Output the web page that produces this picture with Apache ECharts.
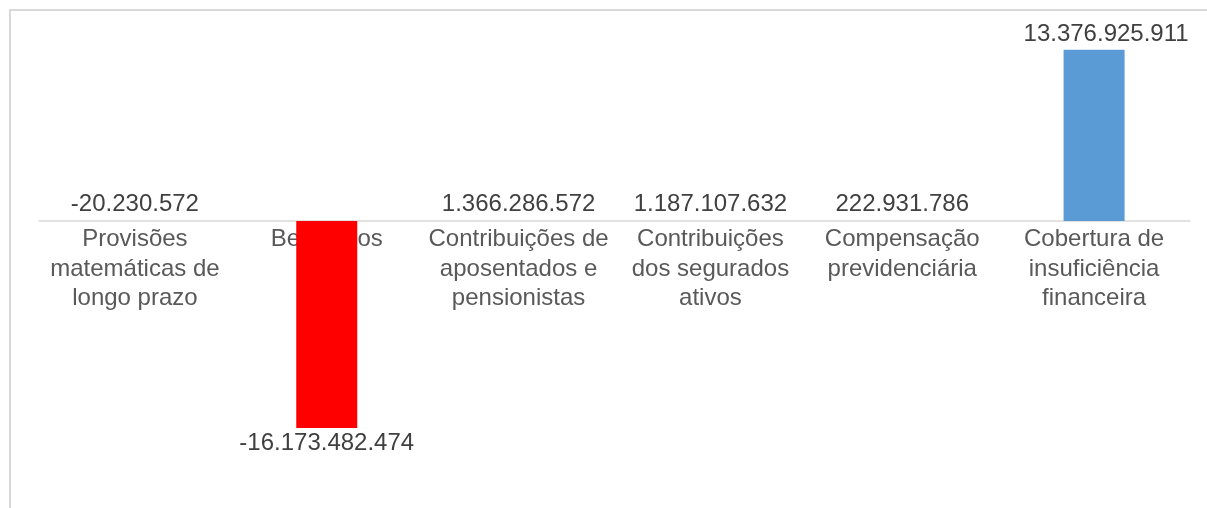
<!DOCTYPE html>
<html>
<head>
<meta charset="utf-8">
<script src="https://cdn.jsdelivr.net/npm/echarts@6/dist/echarts.min.js"></script>
<style>
  html, body { margin: 0; padding: 0; background: #fff; }
  #chart { width: 1207px; height: 508px; }
</style>
</head>
<body>
<div id="chart"></div>
<script>
const categories = [
    'Provisões\nmatemáticas de\nlongo prazo',
    'Benefícios',
    'Contribuições de\naposentados e\npensionistas',
    'Contribuições\ndos segurados\nativos',
    'Compensação\nprevidenciária',
    'Cobertura de\ninsuficiência\nfinanceira'
];
const values = [-20230572, -16173482474, 1366286572, 1187107632, 222931786, 13376925911];

// only two bars are filled in the original, the rest only show their label
const barColors = ['transparent', '#ff0000', 'transparent', 'transparent', 'transparent', '#5b9bd5'];
const labelPos = ['insideBottom', 'bottom', 'insideBottom', 'insideBottom', 'insideBottom', 'top'];
const labelDist = [5, 3, 5, 5, 5, 3];
const labelShift = [0, 0, 0, 0, 0, 12];

let fmt = v => {
    const s = String(Math.abs(v)).replace(/\B(?=(\d{3})+(?!\d))/g, '.');
    return (v < 0 ? '-' : '') + s;
};

const yMin = -20e9, yMax = 15e9;
const gridTop = 29, gridBottom = 31;
const plotH = 508 - gridTop - gridBottom;
// move the category axis up to the zero line (labels included)
const zeroOffset = -plotH * (0 - yMin) / (yMax - yMin);

const myChart = echarts.init(document.getElementById('chart'));
const option = {
    animation: false,
    textStyle: { fontFamily: '"Liberation Sans", Arial, sans-serif' },
    graphic: [{
        type: 'rect',
        shape: { x: 10, y: 10, width: 1400, height: 700 },
        style: { fill: 'none', stroke: '#d9d9d9', lineWidth: 2 },
        silent: true
    }],
    grid: { left: 39, right: 17, top: gridTop, bottom: gridBottom, outerBoundsMode: 'none', containLabel: false },
    xAxis: {
        type: 'category',
        position: 'bottom',
        offset: zeroOffset,
        data: categories,
        axisLine: { onZero: false, lineStyle: { color: '#d9d9d9', width: 1.5 } },
        axisTick: { show: false },
        axisLabel: {
            interval: 0,
            margin: 4,
            color: '#595959',
            fontSize: 24,
            lineHeight: 29.5,
            fontFamily: '"Liberation Sans", Arial, sans-serif'
        },
        z: 0
    },
    yAxis: {
        type: 'value',
        min: yMin,
        max: yMax,
        show: false,
        splitLine: { show: false }
    },
    series: [{
        type: 'bar',
        barWidth: 61,
        z: 3,
        data: values.map((v, i) => ({
            value: v,
            itemStyle: { color: barColors[i] },
            label: { position: labelPos[i], distance: labelDist[i], offset: [labelShift[i], 0] }
        })),
        label: {
            show: true,
            color: '#404040',
            fontSize: 24,
            fontFamily: '"Liberation Sans", Arial, sans-serif',
            formatter: p => fmt(p.value)
        }
    }]
};
myChart.setOption(option);
</script>
</body>
</html>
